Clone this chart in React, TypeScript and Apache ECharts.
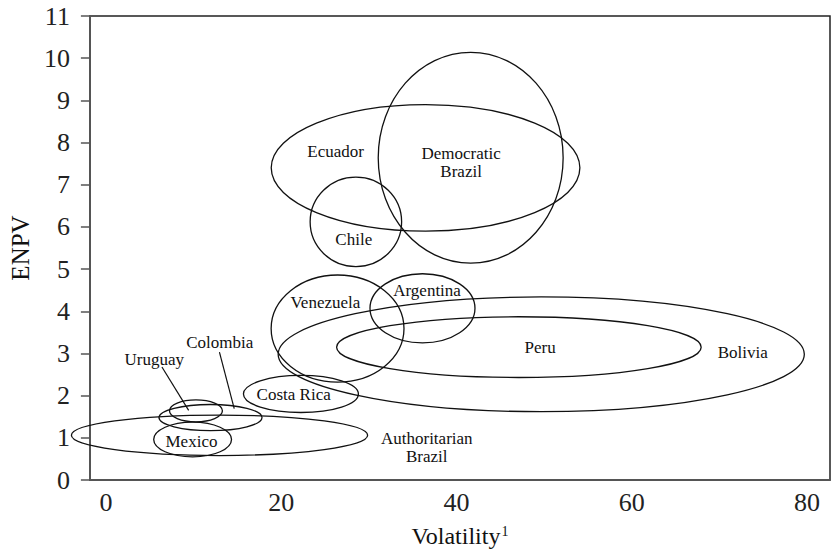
import React, { useEffect, useRef } from 'react';
import * as echarts from 'echarts';

// Country ellipses: centre and half-widths in data units (Volatility, ENPV)
const countries = ['Democratic Brazil', 'Ecuador', 'Chile', 'Venezuela', 'Argentina', 'Bolivia', 'Peru', 'Costa Rica', 'Colombia', 'Uruguay', 'Authoritarian Brazil', 'Mexico'];
const centerX = [41.62, 36.47, 28.52, 26.43, 36.12, 49.67, 47.12, 22.25, 11.93, 10.27, 12.96, 9.89];
const centerY = [7.64, 7.40, 6.12, 3.59, 4.07, 2.98, 3.15, 2.04, 1.48, 1.64, 1.06, 0.96];
const spreadX = [10.55, 17.61, 5.22, 7.58, 5.99, 30.02, 20.8, 6.56, 5.88, 3.02, 16.9, 4.44];
const spreadY = [2.5, 1.5, 1.06, 1.27, 0.82, 1.36, 0.72, 0.44, 0.31, 0.26, 0.48, 0.41];

// Label texts and positions
const labelText = ['Democratic\nBrazil', 'Ecuador', 'Chile', 'Venezuela', 'Argentina', 'Bolivia', 'Peru', 'Costa Rica', 'Colombia', 'Uruguay', 'Authoritarian\nBrazil', 'Mexico'];
const labelX = [40.53, 26.21, 28.28, 25.04, 36.64, 72.67, 49.55, 21.42, 12.98, 5.52, 36.61, 9.76];
const labelY = [7.52, 7.79, 5.71, 4.21, 4.49, 3.02, 3.13, 2.02, 3.25, 2.86, 0.76, 0.91];

// Leader lines (Uruguay, Colombia)
const leaderStart = [[6.39, 2.68], [12.95, 3.03]];
const leaderEnd = [[9.44, 1.65], [14.64, 1.69]];

// Axis ticks
const xTickValues = [0, 20, 40, 60, 80];
const yMin = 0;
const yMax = 11;

const FONT = 'Liberation Serif';

export default function App() {
  const ref = useRef<HTMLDivElement>(null);

  useEffect(() => {
    if (!ref.current) return;
    const chart = echarts.init(ref.current, undefined, { renderer: 'svg' });

    const ellipseData = countries.map((_, i) => [centerX[i], centerY[i], spreadX[i], spreadY[i]]);
    const labelData = labelText.map((_, i) => [labelX[i], labelY[i]]);
    const leaderData = leaderStart.map((s, i) => [s[0], s[1], leaderEnd[i][0], leaderEnd[i][1]]);

    chart.setOption({
      animation: false,
      backgroundColor: '#fff',
      textStyle: { fontFamily: FONT },
      grid: {
        left: 83,
        right: 2,
        top: 16,
        bottom: 71,
        show: true,
        borderColor: '#222',
        borderWidth: 1.5,
        containLabel: false,
      },
      xAxis: {
        type: 'value',
        min: -1.83,
        max: 82.62,
        name: '{n|Volatility}{s|1}',
        nameLocation: 'middle',
        nameGap: 44,
        nameTextStyle: {
          fontFamily: FONT,
          rich: {
            n: { fontFamily: FONT, fontSize: 24, color: '#111' },
            s: { fontFamily: FONT, fontSize: 14, color: '#111', verticalAlign: 'top', padding: [0, 0, 10, 1] },
          },
        },
        axisLine: { show: true, onZero: false, lineStyle: { color: '#555', width: 2 } },
        axisTick: { show: false },
        splitLine: { show: false },
        axisLabel: {
          customValues: xTickValues,
          fontFamily: FONT,
          fontSize: 26,
          color: '#222',
          margin: 9,
        },
      },
      yAxis: {
        type: 'value',
        min: yMin,
        max: yMax,
        interval: 1,
        name: 'ENPV',
        nameLocation: 'middle',
        nameGap: 54,
        nameTextStyle: { fontFamily: FONT, fontSize: 25, color: '#111' },
        axisLine: { show: true, onZero: false, lineStyle: { color: '#555', width: 2 } },
        axisTick: { show: true, inside: false, length: 9, lineStyle: { color: '#555', width: 1.5 } },
        splitLine: { show: false },
        axisLabel: { fontFamily: FONT, fontSize: 26, color: '#222', margin: 20 },
      },
      series: [
        {
          type: 'custom',
          name: 'ellipses',
          clip: false,
          encode: { x: 0, y: 1 },
          data: ellipseData,
          renderItem: (params: any, api: any) => {
            const c = api.coord([api.value(0), api.value(1)]);
            const s = api.size([api.value(2), api.value(3)]);
            return {
              type: 'ellipse',
              shape: { cx: c[0], cy: c[1], rx: s[0], ry: s[1] },
              style: { fill: 'none', stroke: '#111', lineWidth: 1.3 },
            };
          },
        },
        {
          type: 'custom',
          name: 'leaders',
          clip: false,
          encode: { x: [0, 2], y: [1, 3] },
          data: leaderData,
          renderItem: (params: any, api: any) => {
            const a = api.coord([api.value(0), api.value(1)]);
            const b = api.coord([api.value(2), api.value(3)]);
            return {
              type: 'line',
              shape: { x1: a[0], y1: a[1], x2: b[0], y2: b[1] },
              style: { stroke: '#111', lineWidth: 1.2 },
            };
          },
        },
        {
          type: 'custom',
          name: 'labels',
          clip: false,
          encode: { x: 0, y: 1 },
          data: labelData,
          renderItem: (params: any, api: any) => {
            const c = api.coord([api.value(0), api.value(1)]);
            return {
              type: 'text',
              x: c[0],
              y: c[1],
              style: {
                text: labelText[params.dataIndex],
                align: 'center',
                verticalAlign: 'middle',
                fontFamily: FONT,
                fontSize: 17,
                lineHeight: 18,
                fill: '#111',
              },
            };
          },
        },
      ],
    });

    return () => chart.dispose();
  }, []);

  return (
    <div
      ref={ref}
      style={{ position: 'absolute', left: 0, top: 0, width: 832, height: 553, background: '#fff' }}
    />
  );
}
